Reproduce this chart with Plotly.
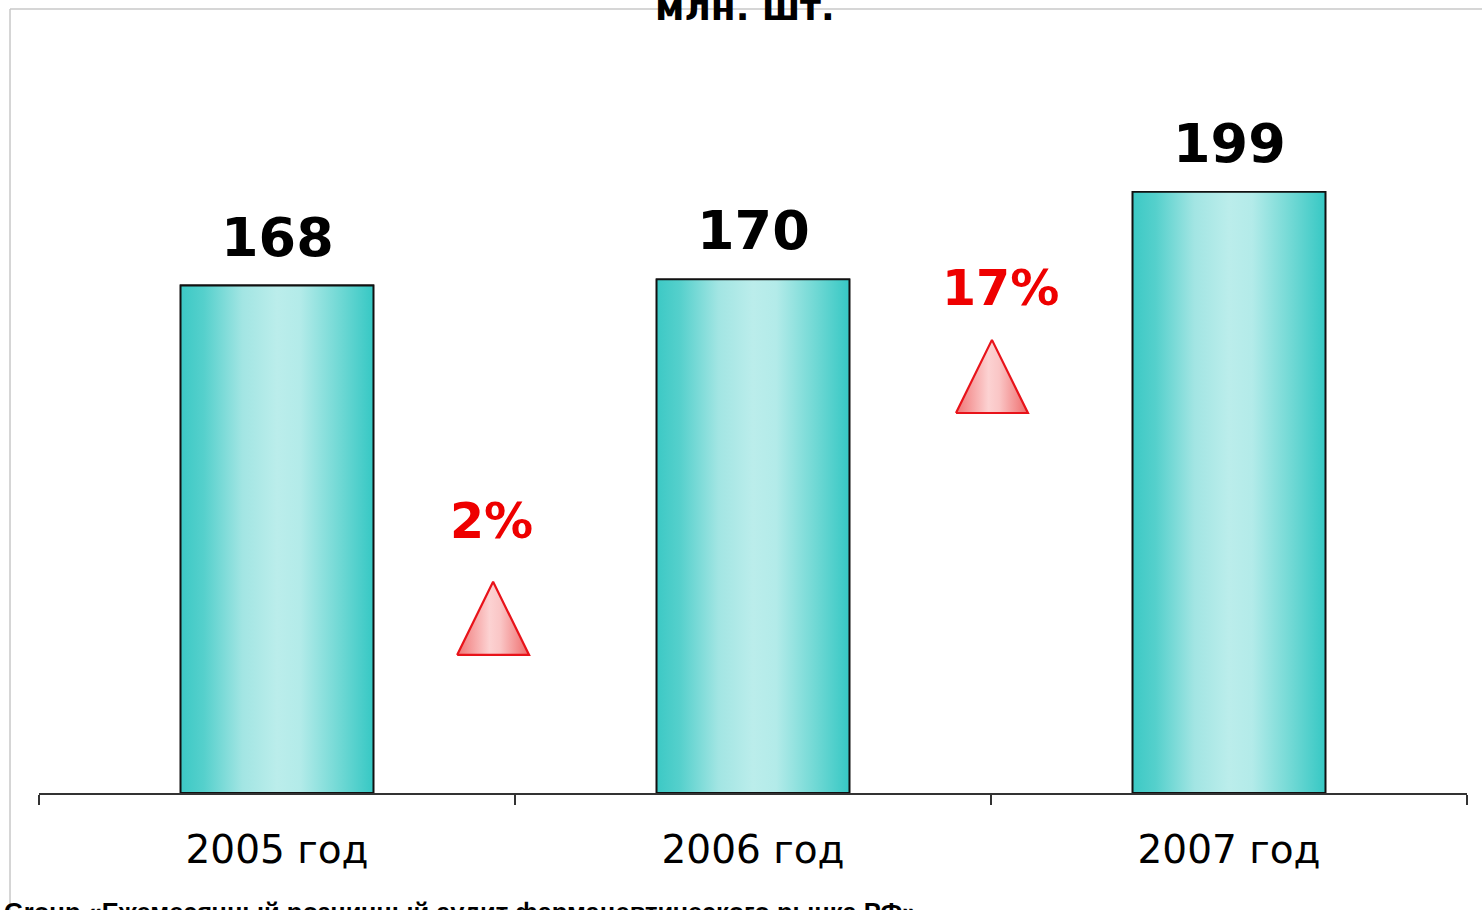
import plotly.graph_objects as go

# ---- data ----
categories = ["2005 год", "2006 год", "2007 год"]
values = [168, 170, 199]
growth_labels = ["2%", "17%"]
title_text = "млн. шт."
source_text = "Group «Ежемесячный розничный аудит фармацевтического рынка РФ»"

# ---- layout constants ----
BAR_W = 0.405
X_RANGE = [-0.5, 2.5]
Y_RANGE = [0, 240]
growth_label_pos = [(0.45, 90.0), (1.52, 167.0)]
tri_pos = [(0.454, 45.7, 69.9), (1.502, 125.8, 150.0)]  # xc, base y, apex y
TRI_HALF = 0.0756

bar_scale = [[0, "#3cc9c5"], [0.12, "#55d0cc"], [0.32, "#a2e5e3"], [0.5, "#bbedeb"],
             [0.62, "#b3ebe9"], [0.82, "#72d9d5"], [1, "#36c8c4"]]
tri_scale = [[0, "#f07575"], [0.45, "#fcd2d2"], [0.6, "#fac6c6"], [1, "#ee6a6a"]]

xs = list(range(len(categories)))

fig = go.Figure()
fig.add_trace(go.Bar(x=xs, y=values, width=BAR_W, marker=dict(color="#7fdcd9",
                     line=dict(color="#111111", width=1.8)), hoverinfo="skip", showlegend=False))

for i, v in zip(xs, values):
    x0, x1 = i - BAR_W / 2, i + BAR_W / 2
    fig.add_trace(go.Scatter(
        x=[x0, x1, x1, x0, x0], y=[0, 0, v, v, 0], mode="lines", fill="toself",
        line=dict(color="#111111", width=1.8),
        fillgradient=dict(type="horizontal", colorscale=bar_scale),
        hoverinfo="skip", showlegend=False))

for (xc, yb, ya) in tri_pos:
    fig.add_trace(go.Scatter(
        x=[xc - TRI_HALF, xc + TRI_HALF, xc, xc - TRI_HALF], y=[yb, yb, ya, yb],
        mode="lines", fill="toself", line=dict(color="#e8131a", width=2.2),
        fillgradient=dict(type="horizontal", colorscale=tri_scale),
        hoverinfo="skip", showlegend=False))

annotations = []
for i, v in zip(xs, values):
    annotations.append(dict(x=i, y=v, xref="x", yref="y", text=f"<b>{v}</b>", showarrow=False,
                            yanchor="bottom", yshift=15,
                            font=dict(family="DejaVu Sans", size=54, color="#000000")))
for (gx, gy), t in zip(growth_label_pos, growth_labels):
    annotations.append(dict(x=gx, y=gy, xref="x", yref="y", text=f"<b>{t}</b>", showarrow=False,
                            yanchor="middle",
                            font=dict(family="DejaVu Sans", size=49, color="#ee0000")))
annotations.append(dict(x=0.4945, y=1.084, xref="paper", yref="paper", text=f"<b>{title_text}</b>",
                        showarrow=False, yanchor="middle", xanchor="center",
                        font=dict(family="DejaVu Sans", size=36, color="#000000")))
annotations.append(dict(x=-0.0259, y=-0.1415, xref="paper", yref="paper", text=f"<b>{source_text}</b>",
                        showarrow=False, yanchor="top", xanchor="left",
                        font=dict(family="Liberation Sans", size=25.5, color="#000000")))

shapes = [
    dict(type="line", xref="paper", yref="paper", x0=-0.0203, x1=1.02, y0=1.0814, y1=1.0814,
         line=dict(color="#c8c8c8", width=1.5), layer="below"),
    dict(type="line", xref="paper", yref="paper", x0=-0.0203, x1=-0.0203, y0=1.0814, y1=-0.2,
         line=dict(color="#c8c8c8", width=1.5), layer="below"),
]

fig.update_layout(
    width=1482, height=910,
    margin=dict(l=39, r=15, t=68, b=117),
    paper_bgcolor="white", plot_bgcolor="white",
    showlegend=False,
    annotations=annotations, shapes=shapes,
    xaxis=dict(range=X_RANGE, tickvals=xs, ticktext=categories, ticks="", showgrid=False,
               zeroline=False, showline=True, linecolor="#333333", linewidth=1.5,
               tickfont=dict(family="DejaVu Sans", size=39, color="#000000"),
               ticklabelstandoff=21,
               minor=dict(tickvals=[-0.5, 0.5, 1.5, 2.5], ticks="outside", ticklen=10,
                          tickcolor="#333333", tickwidth=1.5)),
    yaxis=dict(range=Y_RANGE, visible=False, showgrid=False, zeroline=False),
)

fig.write_html("out.html", config={"displayModeBar": False},
               post_script="document.body.style.margin='0';")
